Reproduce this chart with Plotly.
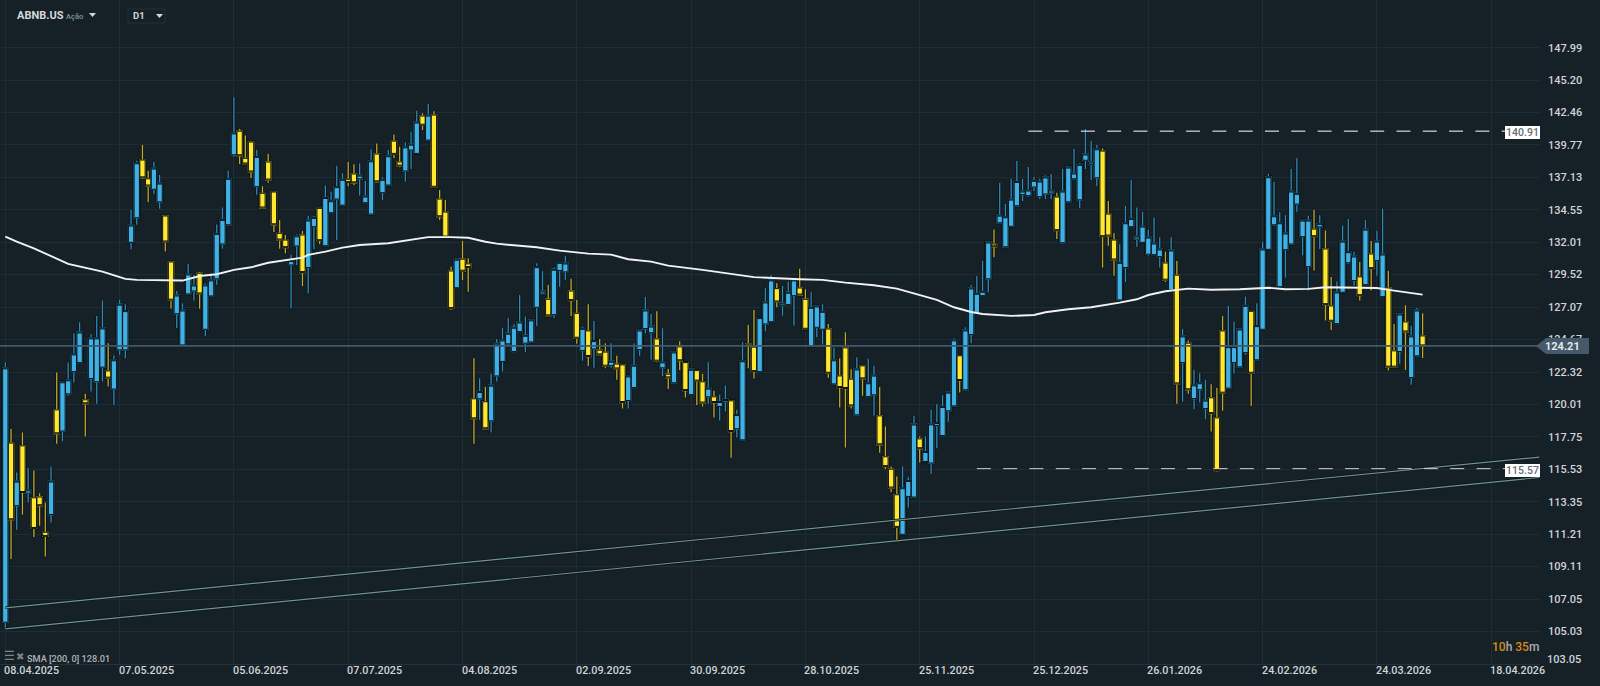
import plotly.graph_objects as go

# daily candles, index 0 = 08.04.2025
opens = [105.60,117.32,113.08,117.13,113.92,113.61,113.66,111.33,112.50,119.63,118.15,120.76,122.35,123.00,120.34,121.85,
         121.62,122.67,122.40,121.10,123.92,123.92,132.00,133.92,138.54,137.02,136.18,135.18,134.06,130.49,126.58,124.28,128.06,128.28,129.63,125.43,
         127.91,129.20,131.87,133.37,138.97,140.91,138.68,140.01,136.39,135.86,138.38,135.96,132.70,132.18,130.26,131.72,132.57,130.06,133.22,134.66,
         131.74,134.32,135.40,134.92,136.98,137.41,137.02,135.11,134.21,139.03,135.91,136.52,140.09,138.38,137.65,139.35,139.08,142.17,140.17,142.25,
         135.40,134.37,129.80,128.53,130.70,130.34,120.41,120.41,120.20,118.86,122.04,123.08,124.36,123.80,125.26,124.41,124.50,127.06,128.06,127.66,
         126.51,129.83,129.73,128.28,126.61,123.87,125.31,123.99,123.90,123.76,122.78,122.89,122.83,120.29,121.21,123.94,125.48,125.18,124.72,122.62,
         122.16,121.55,124.14,123.00,120.71,122.42,121.62,120.55,120.55,119.87,120.18,120.27,118.31,117.54,124.36,124.12,122.35,125.82,125.99,128.46,
         127.18,127.26,127.93,128.51,127.66,124.23,125.58,125.43,125.45,121.47,122.04,124.07,121.81,119.28,122.76,120.57,120.69,119.21,116.38,115.53,
         113.81,111.20,113.70,113.66,117.61,116.06,115.95,118.53,117.84,119.56,119.91,123.49,121.05,125.04,126.61,127.93,129.20,131.87,133.53,131.66,
         133.25,134.87,135.75,135.67,136.36,135.59,135.80,135.88,135.56,131.97,135.18,137.02,135.34,138.52,138.16,137.10,139.27,134.21,132.18,127.61,
         130.06,133.22,132.26,132.00,131.08,131.05,130.90,130.41,128.36,129.48,123.00,124.41,120.43,121.05,119.72,120.48,119.07,125.31,121.17,123.00,
         122.69,123.72,126.76,123.20,125.43,131.46,133.37,128.61,131.43,131.87,135.00,132.44,130.13,133.03,133.20,131.49,127.16,125.85,128.19,130.43,
         129.07,129.35,128.76,131.10,130.59,127.86,128.51,123.85,123.80,125.97,121.92,123.49,124.94]
highs = [123.00,118.29,115.31,118.05,115.61,115.44,113.92,113.30,115.72,122.28,121.62,123.00,125.14,125.95,120.76,125.07,
         126.42,127.56,124.41,123.51,127.61,127.29,134.53,138.48,139.76,137.67,138.38,137.32,134.06,130.49,128.28,127.36,130.34,129.50,129.73,128.87,
         129.63,133.40,134.74,137.67,143.74,141.08,140.56,140.09,139.35,136.42,139.03,135.96,133.74,132.57,131.03,132.62,132.88,134.08,134.06,134.66,
         136.49,135.99,138.05,137.46,138.38,138.19,138.27,136.84,139.41,139.90,137.14,139.35,140.64,139.62,139.98,140.86,142.60,142.40,143.17,142.57,
         136.12,135.32,130.13,130.70,132.10,130.77,123.32,121.88,121.24,122.19,124.72,125.53,126.27,125.82,127.98,126.37,126.12,130.39,129.80,128.74,
         130.06,130.51,130.95,129.20,127.61,125.62,127.29,126.04,124.72,124.41,124.41,123.49,122.83,122.04,124.41,125.43,127.83,126.56,126.76,125.50,
         122.54,123.77,124.55,123.00,122.52,122.42,122.19,123.03,120.98,120.71,121.35,120.27,119.63,124.48,125.75,126.86,126.29,128.49,129.50,128.87,
         128.66,128.99,129.12,129.96,128.41,128.19,127.16,127.29,125.82,124.09,123.32,125.21,122.52,123.39,122.76,123.27,122.76,121.24,118.47,115.71,
         115.04,115.71,115.00,119.21,117.77,117.77,119.63,120.04,120.67,120.88,124.77,123.49,125.58,128.74,129.42,130.57,132.05,133.01,136.70,135.00,
         137.02,138.46,137.02,137.97,137.17,137.02,137.30,137.41,135.91,137.81,138.03,139.46,138.27,141.08,140.09,139.76,139.49,135.24,132.70,131.85,
         134.85,136.92,134.74,134.37,132.96,133.95,132.39,131.28,132.39,130.57,125.45,124.60,122.47,122.23,121.76,121.45,121.17,126.42,127.16,125.99,
         125.45,127.86,126.78,127.36,132.05,137.41,136.76,134.36,134.12,137.81,138.70,133.74,134.08,134.53,134.12,132.93,129.35,128.99,133.32,133.82,
         131.26,130.49,133.74,132.10,132.88,134.63,129.80,125.82,126.61,127.21,125.67,127.00,126.61]
lows = [105.21,109.60,111.50,112.50,113.30,111.02,111.76,109.76,111.97,117.27,117.45,120.62,121.57,123.00,117.77,120.93,
        120.06,121.64,121.28,119.98,123.56,123.32,131.46,133.37,137.00,135.16,135.80,134.63,131.31,126.96,125.53,124.28,128.06,127.56,126.96,124.94,
        127.86,128.76,131.51,133.37,138.81,138.22,138.22,137.08,135.75,134.69,136.70,132.81,131.51,131.16,126.99,130.26,128.66,128.11,131.46,131.87,
        131.74,134.32,132.18,134.92,136.44,136.52,135.69,135.11,134.21,136.70,135.32,136.52,138.70,137.95,136.78,137.81,139.08,141.00,140.17,136.28,
        133.74,132.41,126.86,128.53,129.12,128.23,117.27,118.93,118.31,118.05,121.64,122.35,124.28,123.80,125.26,123.76,124.45,125.67,128.06,126.37,
        126.27,128.61,129.12,126.42,124.36,123.13,122.76,122.62,123.56,122.59,122.62,121.76,119.72,119.72,121.21,123.49,125.14,123.20,123.03,122.04,
        121.10,121.55,122.47,120.50,120.71,119.98,119.87,120.06,119.09,118.88,119.51,116.31,117.70,117.54,122.59,121.85,122.35,125.31,125.99,127.06,
        126.43,127.26,125.70,127.98,125.38,124.23,124.85,124.31,121.90,121.47,119.79,117.02,119.72,119.28,120.62,120.57,119.21,116.65,115.53,113.99,
        110.80,111.20,112.96,113.66,115.98,116.06,115.20,116.97,117.84,118.79,119.91,120.86,121.05,124.41,126.61,127.93,128.16,130.85,133.53,131.66,
        133.25,134.87,135.24,135.59,136.04,135.40,135.40,135.40,132.26,131.97,135.18,137.02,134.69,137.81,136.92,136.44,130.06,131.74,129.44,127.61,
        128.97,133.22,131.66,132.00,130.97,131.05,130.06,128.97,128.36,120.06,120.20,120.76,119.68,120.15,118.98,118.12,115.37,119.56,121.17,122.23,
        122.69,123.56,119.91,123.20,125.43,131.46,133.37,128.61,129.30,131.87,134.40,131.00,128.31,129.83,131.49,126.07,125.38,125.85,128.19,130.34,
        128.69,127.56,128.76,128.31,129.44,127.86,122.42,122.67,122.91,122.47,121.40,123.49,123.34]
closes = [122.62,112.15,114.73,113.96,114.14,111.58,113.08,111.06,114.73,117.96,121.62,121.76,123.63,125.23,120.06,124.80,
          124.80,125.53,121.88,123.20,127.29,126.81,133.35,138.32,137.10,136.44,137.89,136.68,132.03,127.59,127.98,126.86,129.58,128.74,128.06,128.74,
          129.12,132.70,133.79,137.06,140.77,138.89,138.22,137.57,138.84,134.69,136.92,133.37,132.18,131.59,130.59,132.51,129.68,133.74,133.95,132.13,
          135.53,135.27,136.39,136.98,136.73,136.70,137.32,135.64,138.48,136.78,136.98,138.89,139.00,138.05,139.62,139.84,141.67,141.40,142.25,136.34,
          134.00,132.41,126.96,130.70,129.78,130.06,119.00,120.93,118.31,121.38,124.41,124.65,125.14,125.58,125.97,124.99,126.12,130.13,128.28,126.42,
          129.93,130.46,130.41,127.56,124.77,125.50,123.44,124.60,123.56,122.74,123.10,122.54,120.15,122.04,122.81,125.38,126.86,125.67,123.10,123.05,
          121.90,123.77,123.13,121.00,122.52,121.67,120.11,121.17,120.15,120.22,120.36,118.12,119.30,123.13,124.21,122.35,126.29,127.46,129.12,127.46,
          127.38,128.19,129.12,127.98,125.43,127.06,127.16,126.76,122.23,123.20,121.21,121.14,119.91,122.54,121.83,121.55,122.10,117.20,115.71,114.26,
          111.65,114.28,114.77,118.64,116.93,116.74,118.65,118.74,119.87,120.88,124.65,121.71,125.38,128.51,128.11,128.26,132.03,131.66,134.13,134.00,
          135.40,136.81,136.04,136.12,136.90,136.84,137.17,136.12,132.91,136.04,137.97,137.49,138.19,139.03,138.38,139.46,132.44,132.49,130.64,130.46,
          133.53,133.87,132.49,133.27,132.41,131.95,131.49,129.10,131.41,121.47,124.94,121.05,121.40,121.55,120.32,119.37,115.44,120.81,124.16,124.16,
          125.45,127.21,122.23,125.70,131.49,137.19,134.08,133.53,132.73,136.04,135.86,133.74,133.74,132.44,133.48,127.26,126.02,128.21,132.10,131.28,
          130.95,127.93,133.03,129.98,132.10,131.10,122.67,122.67,126.56,125.23,124.94,126.86,124.21]

sma_idx = [0,2,5,8,11,17,21,23,28,31,34,37,40,43,46,49,52,53,56,59,62,67,73,74,78,81,84,86,89,93,97,102,106,109,113,116,122,128,131,139,143,147,
           152,156,160,163,166,169,171,176,180,182,186,190,195,198,200,203,207,211,216,221,224,228,231,235,240,243,248]
sma_vals = [132.44,132.05,131.54,130.95,130.34,129.75,129.20,129.12,129.07,129.07,129.42,129.55,129.88,130.08,130.43,130.64,130.82,131.03,131.28,131.59,
            131.79,131.93,132.31,132.41,132.41,132.36,132.05,131.90,131.77,131.62,131.36,131.13,131.05,130.70,130.51,130.21,129.88,129.55,129.33,129.17,129.12,128.91,
            128.72,128.46,127.98,127.61,127.06,126.71,126.56,126.42,126.49,126.69,126.91,127.06,127.41,127.66,127.98,128.26,128.46,128.38,128.41,128.53,128.41,128.44,
            128.56,128.53,128.51,128.31,128.01]

trend_x = [0, 268.4]
trend_upper = [106.50, 116.36]
trend_lower = [105.19, 114.97]
resistance_x = [179, 262.4]
resistance = [140.91, 140.91]
support_x = [170, 262.4]
support = [115.57, 115.57]
last_price = 124.21

y_ticks = [147.99,145.20,142.46,139.77,137.13,134.55,132.01,129.52,127.07,124.67,122.32,120.01,117.75,115.53,113.35,111.21,109.11,107.05,105.03]
date_idx = [0,20,40,60,80,100,120,140,160,180,200,220,240,260]
date_labels = ["08.04.2025","07.05.2025","05.06.2025","07.07.2025","04.08.2025","02.09.2025","30.09.2025",
               "28.10.2025","25.11.2025","25.12.2025","26.01.2026","24.02.2026","24.03.2026","18.04.2026"]

BG = "#162027"
GRID = "#1f2c33"
BLUE = "#3fb1e5"
YELLOW = "#ffe82d"
W, H, PW, PH = 1600, 686, 1540, 664
xs = list(range(len(closes)))
body_hi = [max(o, c) for o, c in zip(opens, closes)]
body_lo = [min(o, c) for o, c in zip(opens, closes)]


def py(px):
    return 1 - px / PH


def label(x, y, text, size=11, color="#cfd4d7", anchor="left", **kw):
    return dict(xref="paper", yref="paper", x=x / PW, y=py(y), text=text, showarrow=False,
                xanchor=anchor, yanchor="middle", borderpad=0, borderwidth=0,
                font=dict(family="Roboto", size=size, color=color, weight=500), **kw)


fig = go.Figure()
# wick shadow, then wicks, then bodies on top
fig.add_trace(go.Candlestick(x=xs, open=opens, high=highs, low=lows, close=closes,
                             increasing=dict(line=dict(color="#0c1317", width=3), fillcolor="#0c1317"),
                             decreasing=dict(line=dict(color="#0c1317", width=3), fillcolor="#0c1317"),
                             hoverinfo="skip", showlegend=False))
fig.add_trace(go.Candlestick(x=xs, open=opens, high=highs, low=lows, close=closes,
                             increasing=dict(line=dict(color="#2f8ab6", width=1.3), fillcolor="#2f8ab6"),
                             decreasing=dict(line=dict(color="#bfa92a", width=1.3), fillcolor="#bfa92a"),
                             hoverinfo="skip", showlegend=False))
fig.add_trace(go.Candlestick(x=xs,
                             open=[lo if c > o else hi for o, c, hi, lo in zip(opens, closes, body_hi, body_lo)],
                             high=body_hi, low=body_lo,
                             close=[hi if c > o else lo for o, c, hi, lo in zip(opens, closes, body_hi, body_lo)],
                             increasing=dict(line=dict(color="#0c1317", width=1), fillcolor=BLUE),
                             decreasing=dict(line=dict(color="#0c1317", width=1), fillcolor=YELLOW),
                             hoverinfo="skip", showlegend=False))
for vals in (trend_upper, trend_lower):
    fig.add_trace(go.Scatter(x=trend_x, y=vals, mode="lines", showlegend=False,
                             line=dict(color="#0c1317", width=2.6)))
    fig.add_trace(go.Scatter(x=trend_x, y=vals, mode="lines", showlegend=False,
                             line=dict(color="#6f978c", width=1.2)))
fig.add_trace(go.Scatter(x=sma_idx, y=sma_vals, mode="lines", showlegend=False,
                         line=dict(color="#f2f2f2", width=1.9)))
fig.add_trace(go.Scatter(x=resistance_x, y=resistance, mode="lines", showlegend=False,
                         line=dict(color="#ffffff", width=1, dash="14px,12.3px")))
fig.add_trace(go.Scatter(x=support_x, y=support, mode="lines", showlegend=False,
                         line=dict(color="#d0d0d0", width=1, dash="14px,12.3px")))
fig.add_trace(go.Scatter(x=[-1, 268.6], y=[last_price, last_price], mode="lines", showlegend=False,
                         line=dict(color="#40596a", width=1.7)))

notes = [label(1547, 659, "103.05")]
for idx, text in zip(date_idx, date_labels):
    notes.append(dict(xref="x", yref="paper", x=idx, y=py(670.7), text=text, showarrow=False, xanchor="left",
                      yanchor="middle", borderpad=0, borderwidth=0, xshift=-1,
                      font=dict(family="Roboto", size=10.8, color="#cfd4d7", weight=500)))
notes += [
    label(1589, 346, "<b>124.21</b>", color="#e4e8ea", anchor="right", xshift=-9),
    label(1522.5, 132.5, "140.91", size=10.5, color="#666e72", anchor="center", bgcolor="#ffffff", width=35, height=13),
    label(1522.5, 470, "115.57", size=10.5, color="#666e72", anchor="center", bgcolor="#ffffff", width=35, height=13),
    label(17, 16, "<b>ABNB.US</b>", size=11, color="#d4d8da"),
    label(66, 17, "Ação", size=7.5, color="#7f9a8f"),
    label(133, 16, "<b>D1</b>", size=9.5, color="#d4d8da"),
    label(27, 658.3, "SMA [200, 0] 128.01", size=9.2, color="#aeb4b8"),
    label(4, 656, "☰", size=12, color="#7d8387"),
    label(16, 656, "✖", size=10, color="#7d8387"),
    label(1492, 646.7, '<span style="color:#d98a10">10</span>h <span style="color:#d98a10">35</span>m', size=12, color="#a9aeb1"),
]

shapes = [
    # header band hides the vertical grid above it
    dict(type="rect", xref="paper", yref="paper", x0=0, x1=1, y0=py(15), y1=1, fillcolor=BG, line_width=0, layer="between"),
    # price flag
    dict(type="path", xref="paper", yref="paper", layer="above", line_width=0, fillcolor="#44596a",
         path=f"M {1536/PW} {py(346)} L {1546/PW} {py(338)} L {1589/PW} {py(338)} L {1589/PW} {py(354)} L {1546/PW} {py(354)} Z"),
    # D1 box
    dict(type="rect", xref="paper", yref="paper", x0=128/PW, x1=165/PW, y0=py(23), y1=py(9),
         line=dict(color="#22303a", width=1), fillcolor="rgba(0,0,0,0)"),
    # drop-down carets
    dict(type="path", xref="paper", yref="paper", line_width=0, fillcolor="#d4d8da",
         path=f"M {89/PW} {py(13)} L {96/PW} {py(13)} L {92.5/PW} {py(17)} Z"),
    dict(type="path", xref="paper", yref="paper", line_width=0, fillcolor="#d4d8da",
         path=f"M {156/PW} {py(14)} L {163/PW} {py(14)} L {159.5/PW} {py(18)} Z"),
]

fig.update_layout(
    width=W, height=H, margin=dict(l=0, r=W - PW, t=0, b=H - PH),
    paper_bgcolor=BG, plot_bgcolor=BG, showlegend=False, boxmode="overlay", boxgap=0.07, boxgroupgap=0,
    annotations=notes, shapes=shapes, hovermode=False,
    xaxis=dict(range=[-0.93, 268.54], tickmode="array", tickvals=date_idx, showticklabels=False, ticks="",
               showgrid=True, gridcolor=GRID, gridwidth=1, rangeslider=dict(visible=False), zeroline=False,
               showline=True, linecolor="#263239", linewidth=1),
    yaxis=dict(type="log", range=[2.01301, 2.18240], side="right", tickmode="array", tickvals=y_ticks,
               ticktext=[f"{v:.2f}" for v in y_ticks], ticks="", ticklabelstandoff=7,
               tickfont=dict(family="Roboto", size=11, color="#cfd4d7", weight=500),
               showgrid=True, gridcolor=GRID, gridwidth=1, zeroline=False, showline=False),
)

fig.write_html("out.html", config=dict(displayModeBar=False), post_script="document.body.style.margin='0';")
